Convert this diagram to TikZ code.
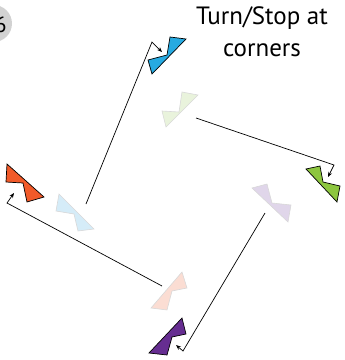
\documentclass[tikz,border=0pt]{standalone}
\usepackage{fontspec}
\setmainfont{PT Sans}
\usetikzlibrary{arrows.meta}
\definecolor{cblue}{HTML}{27AAE1}
\definecolor{corange}{HTML}{F15A29}
\definecolor{cgreen}{HTML}{8DC63F}
\definecolor{cpurple}{HTML}{662D91}
\definecolor{fblue}{HTML}{D5ECF8}
\definecolor{fgreen}{HTML}{E9F3DC}
\definecolor{fpurple}{HTML}{E0D6EA}
\definecolor{fpink}{HTML}{FBDDD3}
\definecolor{fedge}{HTML}{D8D8D8}
\definecolor{cgrey}{HTML}{D2D2D2}
\tikzset{
  darkflag/.style={draw=black, line width=0.7pt, line join=miter},
  fadeflag/.style={draw=fedge, line width=0.6pt, line join=miter},
  move/.style={draw=black, line width=0.7pt, -{Stealth[length=5pt,width=4pt]}},
}
\begin{document}
\begin{tikzpicture}[x=1pt,y=-1pt]
\useasboundingbox (0,0) rectangle (345,360);
% step number circle
\node[circle, fill=cgrey, minimum size=37pt, inner sep=0pt] (numcircle) at (-6.5,23.5) {};
\node[font=\fontsize{22}{22}\selectfont, inner sep=0pt] (num) at (0.5,25) {6};
% title
\node[align=center, font=\fontsize{25}{32}\selectfont, inner sep=0pt] (title) at (262,32) {Turn/Stop at\\corners};
% faded (start) flags
\fill[fblue, fadeflag] (59,194) -- (56,211) -- (74,214) -- (78,231) -- (94,229) -- cycle;
\fill[fgreen, fadeflag] (162,111) -- (179,112) -- (182,92) -- (198,95) -- (166,127) -- cycle;
\fill[fpurple, fadeflag] (252,188) -- (267,184) -- (272,203) -- (291,205) -- (288,222) -- cycle;
\fill[fpink, fadeflag] (151,308) -- (182,272) -- (187,288) -- (172,291) -- (167,310) -- cycle;
% dark (end) flags
\fill[cblue, darkflag] (148,60) -- (167,55) -- (170,37) -- (186,39) -- (152,74) -- cycle;
\fill[corange, darkflag] (7,164) -- (6,182) -- (23,183) -- (27,202) -- (44,197) -- cycle;
\fill[cgreen, darkflag] (306,169) -- (320,166) -- (323,182) -- (340,186) -- (337,202) -- cycle;
\fill[cpurple, darkflag] (149,353) -- (182,318) -- (186,334) -- (172,337) -- (167,355) -- cycle;
% path coordinates
\coordinate (b0) at (86,204); \coordinate (b1) at (152,42); \coordinate (b2) at (162,52);
\coordinate (g0) at (196,118); \coordinate (g1) at (334,165); \coordinate (g2) at (328,177);
\coordinate (p0) at (265,213); \coordinate (p1) at (183,351); \coordinate (p2) at (176,345);
\coordinate (o0) at (162,286); \coordinate (o1) at (7,203); \coordinate (o2) at (14,193);
\draw[move] (b0) -- (b1) -- (b2);
\draw[move] (g0) -- (g1) -- (g2);
\draw[move] (p0) -- (p1) -- (p2);
\draw[move] (o0) -- (o1) -- (o2);
\end{tikzpicture}
\end{document}
